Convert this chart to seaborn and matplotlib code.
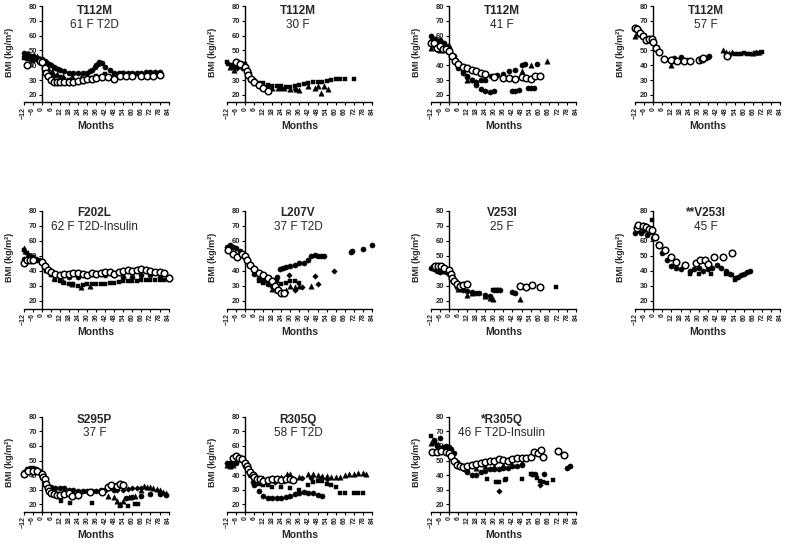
import matplotlib.pyplot as plt
import pandas as pd
import seaborn as sns

plt.switch_backend("Agg")

# ---- data (months from surgery, BMI) ----
# Panel 1: T112M 61 F T2D
P1_OPEN_M = [-10, -1, 0, 2, 3, 4, 6, 8, 10, 12, 15, 18, 21, 24, 27, 30, 33, 36, 40, 44, 48, 52, 56, 60, 66, 70, 74, 78]
P1_OPEN_B = [40, 43, 42, 38, 35, 33, 30, 29, 28.5, 28.5, 28.5, 28.5, 29, 29.5, 30, 30.5, 31, 31.5, 32, 32, 31, 32.5, 32.5, 32.5, 32.5, 33, 33, 33.5]
P1_CIRC_M = [-12, -11, -10, -9, -8, -7, -6, -5, -4, -3, -2, -1, 0, 2, 3, 5, 6, 8, 9, 11, 12, 15, 18, 21, 24, 27, 30,
             32, 33, 35, 36, 37, 38, 40, 42, 45, 48, 51, 54, 57, 60, 63, 66, 69, 72, 75, 78]
P1_CIRC_B = [48, 47, 47.5, 46, 46.5, 45, 46, 45, 44.5, 45, 44, 44, 44, 43, 42, 41, 40, 39, 38, 37.5, 37, 36, 35, 35, 35, 35, 35,
             36, 37, 39, 40, 41, 42, 41.5, 39, 37, 35, 35, 35, 35, 35, 35, 35, 35.5, 35.5, 35.5, 35.5]
P1_SQ_M = [-12, -10, -8, -6, -4, -2, 3, 6, 9, 12, 15, 18, 21, 24, 27, 30, 33, 36, 42, 48, 54, 60, 66, 72, 78]
P1_SQ_B = [45, 44, 46, 43, 45, 44, 37, 34, 33, 32, 31, 30, 29.5, 29, 29, 30, 31.5, 33, 34, 34, 34.5, 34, 34, 34.5, 34.5]
P1_TRI_M = [-11, -9, -7, -5, -3, 1, 4, 7, 10, 14, 20, 26]
P1_TRI_B = [46, 48, 44, 47, 46, 42, 38, 36, 34, 33, 33, 32]

# Panel 2: T112M 30 F
P2_OPEN_M = [-6, -3, 0, 1, 2, 4, 6, 9, 12, 15]
P2_OPEN_B = [42, 41, 39, 36.5, 33.5, 31, 29, 26.5, 24.5, 22.5]
P2_SQ_M = [-12, -11, -9, -8, -6, -4, -3, -1, 0, 3, 6, 9, 12, 15, 18, 21, 24, 27, 30, 33, 36, 39, 42, 45, 48, 51, 54, 57, 60, 63, 66, 72]
P2_SQ_B = [42, 41, 40, 39, 38, 40, 40, 41, 41, 34, 30, 28, 28, 27, 26, 26, 26, 25.5, 25.5, 26, 27, 27.5, 28, 28.5, 29, 29, 29.5, 30, 30.5, 31, 31, 30.5]
P2_TRI_M = [-10, -7, 14, 18, 22, 26, 30, 34, 36, 42, 46, 48, 50, 52, 55]
P2_TRI_B = [39, 37, 26, 25, 24.5, 24.5, 24, 24, 23.5, 26, 25, 26, 21.5, 26, 24]
P2_DIA_M = [-5, -2, 10, 16, 24, 33]
P2_DIA_B = [38, 38.5, 27, 26, 25, 24]

# Panel 3: T112M 41 F
P3_OPEN_M = [-12, -10, -8, -6, -4, -2, 0, 2, 4, 6, 9, 12, 15, 18, 21, 24, 30, 36, 40, 44, 48, 51, 54, 57, 60]
P3_OPEN_B = [55, 55, 52, 53, 51, 51, 49.5, 46, 43, 41, 39, 38, 37, 36, 35, 34, 32, 31.5, 31.5, 31, 32, 31.5, 31, 32.5, 33]
P3_CIRC_M = [-12, -10, -9, -7, -6, -4, -3, -1, 0, 3, 6, 9, 12, 15, 18, 21, 24, 27, 30, 42, 44, 46, 52, 54, 56]
P3_CIRC_B = [60, 58, 58, 56, 57, 55, 55, 53, 52, 46, 40, 36, 33, 30, 27, 24, 22.5, 22, 22.5, 22.5, 22.5, 23.5, 24.5, 24.5, 24.5]
P3_CIRC2_M = [-11, -8, -5, -2, 6, 9, 12, 15, 18, 21, 24, 28, 32, 36, 40, 44, 48, 50, 58]
P3_CIRC2_B = [57, 55, 54, 52, 38, 35, 32, 30, 29, 30, 30, 33, 33.5, 34, 36, 37, 40.5, 41, 41]
P3_TRI_M = [-12, -9, -6, -3, 12, 18, 24, 48, 54, 65]
P3_TRI_B = [52, 54, 50, 52, 30, 29, 31, 36, 40, 43]

# Panel 4: T112M 57 F
P4_OPEN_M = [-12, -11, -9, -7, -5, -3, -1, 0, 2, 4, 7, 12, 16, 20, 24, 30, 32, 33, 49]
P4_OPEN_B = [65, 64.5, 62, 60, 57, 58, 58, 55.5, 52, 49, 44.5, 43.5, 43, 43, 43, 43.5, 44, 45, 46.5]
P4_TRI_M = [-12, -11, -10, -9, -8, -7, -6, -4, -2, 12, 46, 48, 50, 52, 66, 68, 70]
P4_TRI_B = [60, 62, 63, 61, 63, 61, 60, 58, 57, 40, 50, 49, 48.5, 49, 48.5, 49, 49]
P4_CIRC_M = [14, 18, 22, 36, 37]
P4_CIRC_B = [45, 45.5, 43.5, 45.5, 46.5]
P4_SQ_M = [13, 16, 20, 35, 54, 56, 58, 60, 62, 64, 67, 70, 72]
P4_SQ_B = [42.5, 42, 43, 44.5, 47.5, 47.5, 47.5, 48, 47.5, 47.5, 48, 48.5, 49]

# Panel 5: F202L 62 F T2D-Insulin
P5_OPEN_M = [-12, -10, -8, -6, 0, 2, 4, 6, 9, 12, 15, 18, 21, 24, 27, 30, 33, 36, 39, 42, 45, 48, 51, 54, 57, 60, 63, 66, 69, 72, 75, 78, 81, 84]
P5_OPEN_B = [45, 47, 47, 47.5, 46, 43, 40.5, 39, 38, 37.5, 38, 38, 38.5, 38.5, 38, 37.5, 38.5, 38, 38.5, 39, 39.5, 38, 39.5, 40,
             40.5, 40, 40.5, 41, 40.5, 40, 39.5, 39, 38.5, 35]
P5_SQ_M = [-12, -10, -8, -6, -4, -2, 0, 3, 6, 9, 12, 15, 18, 21, 24, 27, 30, 33, 36, 39, 42, 45, 48, 51, 54, 57, 60, 63, 66, 69,
           72, 75, 78, 81, 84]
P5_SQ_B = [54, 52, 50, 49, 48, 47, 45, 40, 37, 34, 33, 32, 31.5, 31, 30, 30.5, 31, 31, 31, 31.5, 31.5, 32, 32, 32.5, 33, 33,
           33.5, 33.5, 34, 34, 34, 34, 34, 34, 34]
P5_TRI_M = [-12, -11, -9, -7, 3, 8, 14, 20, 26, 32]
P5_TRI_B = [55, 53, 51, 50, 42, 35, 33, 31, 29.5, 30]
P5_CIRC_M = [-12, -9, -6, -3, 0, 6, 12, 18, 24, 30, 36, 42, 48, 54, 60, 66, 72, 78, 84]
P5_CIRC_B = [48, 48, 48, 47, 46, 38, 36, 36, 36, 37, 38, 37, 37, 36, 36, 37, 37, 36, 36]

# Panel 6: L207V 37 F T2D
P6_OPEN_M = [-11, -8, -5, -2, 0, 1, 3, 6, 9, 12, 15, 18, 20, 22, 24, 26]
P6_OPEN_B = [54, 51, 49, 51, 50, 47.5, 44, 41, 38.5, 37, 35.5, 33, 30, 27.5, 25.5, 25]
P6_CIRC_M = [-12, -10, -8, -6, -3, 0, 3, 6, 9, 12, 15, 18, 21, 23, 25, 27, 30, 33, 36, 39, 42, 44, 46, 48, 50, 52, 70, 71, 78, 84]
P6_CIRC_B = [56, 57, 56, 55, 53, 50, 44, 38, 35, 33, 31, 30, 36, 41, 42, 42.5, 43, 44, 45, 45.5, 47, 50, 50.5, 50, 50, 50,
             52.5, 53, 54.5, 57.5]
P6_SQ_M = [9, 12, 15, 18, 21, 24, 27, 30, 33, 36]
P6_SQ_B = [33, 32, 31, 32, 33, 31, 32, 33, 33.5, 32]
P6_TRI_M = [18, 21, 24, 27, 30, 33, 36, 44]
P6_TRI_B = [28, 27, 26, 27, 30, 29, 30, 30]
P6_DIA_M = [29, 33, 38, 46, 48, 59]
P6_DIA_B = [37, 27, 29.5, 36.5, 31, 40]

# Panel 7: V253I 25 F
P7_OPEN_M = [-10, -9, -7, -5, -3, 0, 1, 2, 3, 5, 7, 9, 12, 47, 51, 55, 60]
P7_OPEN_B = [42.5, 43, 43.5, 43, 42, 40.5, 38, 35.5, 33.5, 31, 30, 30.5, 31, 30, 29.5, 30.5, 29.5]
P7_CIRC_M = [-12, -10, -8, -6, -4, -2, 0, 3, 5, 7, 9, 12, 15, 18, 20, 24, 27, 30, 32, 34, 42, 44]
P7_CIRC_B = [42, 41, 40, 39.5, 40, 39, 38, 33, 29, 28, 27, 26.5, 26, 25.5, 25, 24, 23.5, 27, 27.5, 27.5, 26, 25]
P7_TRI_M = [6, 12, 15, 24, 27, 29, 47]
P7_TRI_B = [28, 24, 25, 23, 22, 21.5, 21.5]
P7_SQ_M = [29, 31, 33, 71]
P7_SQ_B = [27, 27.5, 27.5, 29]

# Panel 8: **V253I 45 F
P8_OPEN_M = [-11, -10, -7, -5, -3, -1, 1, 4, 8, 12, 15, 21, 28, 31, 34, 36, 40, 46, 52]
P8_OPEN_B = [68.5, 70.5, 70, 69, 68, 67, 62.5, 57, 54, 49, 46, 44, 45, 47, 47.5, 44.5, 49, 49.5, 52]
P8_CIRC_M = [-12, -10, -8, -6, -4, -2, 0, 3, 6, 9, 12, 15, 18, 24, 27, 30, 33, 36, 39, 42, 45, 48, 51, 54, 56, 58, 60, 62, 64]
P8_CIRC_B = [65, 67, 65, 67, 64, 66, 62, 58, 52, 47, 43, 42, 41, 40, 41, 42, 40, 41, 42, 44, 42, 40, 38, 35, 36, 37, 38, 39.5, 40]
P8_SQ_M = [-1, 24, 30, 38, 48, 52, 54]
P8_SQ_B = [73.5, 38, 38, 38, 38, 37, 34]

# Panel 9: S295P 37 F
P9_OPEN_M = [-12, -9, -6, -3, 0, 1, 2, 3, 4, 5, 6, 8, 10, 12, 15, 18, 20, 24, 32, 40, 44, 46, 50, 52, 54]
P9_OPEN_B = [41, 43, 43, 43, 41, 39, 37, 34, 31, 29, 27.5, 27, 26.5, 26.5, 27, 27.5, 26, 26.5, 28.5, 28.5, 32, 33, 32.5, 34, 33]
P9_CIRC_M = [-12, -10, -8, -6, -4, -2, 0, 3, 6, 9, 12, 15, 18, 21, 24, 27, 30, 33, 36, 39, 42, 45, 48, 56, 60, 66, 72, 78, 82]
P9_CIRC_B = [42, 44, 45, 45, 44, 43, 41, 35, 32, 31, 31, 31, 30, 29.5, 29, 29, 29, 29, 29, 29.5, 30, 31, 30, 24, 25, 26, 27, 27, 26.5]
P9_TRI_M = [44, 48, 50, 52, 54, 58, 62, 66, 68, 70, 72, 74, 76, 78, 80, 82]
P9_TRI_B = [26, 25, 22, 20, 22.5, 25, 26, 30, 32.5, 32, 32, 31.5, 30.5, 29.5, 28.5, 27.5]
P9_DIA_M = [50, 54, 57, 60, 63, 66]
P9_DIA_B = [30, 30, 30.5, 31, 31, 31.5]
P9_SQ_M = [13, 19, 33, 52, 57, 62, 64]
P9_SQ_B = [22, 21, 21, 18.5, 19, 20.5, 20.5]

# Panel 10: R305Q 58 F T2D
P10_OPEN_M = [-8, -6, -4, -2, 0, 1, 2, 3, 5, 6, 8, 10, 12, 15, 18, 21, 24, 27, 30, 32]
P10_OPEN_B = [52, 53, 52, 51, 48, 46, 44, 42, 40, 39, 37.5, 37, 36, 36.5, 37, 37, 36.5, 37, 37, 36.5]
P10_CIRC_M = [-12, -10, -6, 0, 3, 5, 6, 9, 12, 15, 18, 21, 24, 27, 30, 33, 36, 39, 42, 45, 48, 51]
P10_CIRC_B = [48, 48, 48, 46, 40, 35, 33, 29, 26, 24.5, 24, 24, 24.5, 25, 26, 27, 28, 28.5, 28, 27.5, 26.5, 25.5]
P10_SQ_M = [6, 9, 12, 15, 18, 24, 30, 36, 42, 45, 48, 51, 54, 57, 60, 63, 66, 72, 75, 78]
P10_SQ_B = [37, 34, 33, 33, 32, 32, 31, 30, 33, 35, 36, 36, 34, 33, 32, 28, 28, 28, 27.5, 27.5]
P10_TRI_M = [-12, -10, -8, 12, 18, 24, 28, 30, 36, 42, 45, 48, 51, 54, 57, 60, 63, 66, 69, 72, 75, 78, 80]
P10_TRI_B = [47, 46, 47, 38, 38, 39, 40.5, 41, 38.5, 41, 41, 40, 39.5, 39.5, 39, 38.5, 39, 40, 41, 41, 41.5, 41.5, 41]
P10_DIA_M = [20, 26, 32, 38, 44, 50, 54]
P10_DIA_B = [35, 36, 37, 38, 38, 38, 37]

# Panel 11: *R305Q 46 F T2D-Insulin
P11_OPEN_M = [-11, -8, -5, -2, 0, 1, 3, 5, 7, 9, 12, 15, 18, 21, 24, 27, 30, 33, 36, 39, 42, 45, 48, 51, 54, 56, 59, 61, 62, 72, 76]
P11_OPEN_B = [56, 56, 56.5, 56, 55, 53, 50, 47, 46, 45.5, 46, 47, 47.5, 48, 49, 49.5, 50, 51, 50.5, 50, 51, 51.5, 51.5, 52,
              52.5, 56, 55, 57, 52.5, 56.5, 53.5]
P11_CIRC_M = [-10, -8, -6, -4, -2, 0, 1, 3, 5, 8, 10, 12, 15, 18, 21, 24, 27, 30, 33, 36, 39, 42, 45, 48, 55, 57, 63, 78, 80]
P11_CIRC_B = [64, 60, 65.5, 59, 60, 59, 58, 55, 49, 46, 44, 42, 40, 40, 42, 43, 44, 44, 44.5, 45, 45, 46, 46, 47, 41, 40.5,
              40.5, 45, 46.5]
P11_SQ_M = [-12, -9, 25, 31, 33, 37, 38, 48, 54, 56, 58, 60, 62, 65, 69]
P11_SQ_B = [67, 63, 37.5, 35.5, 35.5, 36.5, 37.5, 37.5, 41, 40, 38, 36, 35, 34.5, 36.5]
P11_TRI_M = [-12, -10, -7, 12, 18, 24, 30, 36, 42, 48]
P11_TRI_B = [62, 63, 61, 44, 45, 46, 46, 47, 47, 49]
P11_DIA_M = [33, 60]
P11_DIA_B = [29, 33]

TITLES = ["T112M", "T112M", "T112M", "T112M", "F202L", "L207V", "V253I", "**V253I", "S295P", "R305Q", "*R305Q"]
SUBTITLES = ["61 F T2D", "30 F", "41 F", "57 F", "62 F T2D-Insulin", "37 F T2D", "25 F", "45 F", "37 F",
             "58 F T2D", "46 F T2D-Insulin"]

SERIES = [
    [("circle", P1_CIRC_M, P1_CIRC_B), ("square", P1_SQ_M, P1_SQ_B), ("triangle", P1_TRI_M, P1_TRI_B), ("open", P1_OPEN_M, P1_OPEN_B)],
    [("square", P2_SQ_M, P2_SQ_B), ("triangle", P2_TRI_M, P2_TRI_B), ("diamond", P2_DIA_M, P2_DIA_B), ("open", P2_OPEN_M, P2_OPEN_B)],
    [("circle", P3_CIRC_M, P3_CIRC_B), ("circle", P3_CIRC2_M, P3_CIRC2_B), ("triangle", P3_TRI_M, P3_TRI_B), ("open", P3_OPEN_M, P3_OPEN_B)],
    [("triangle", P4_TRI_M, P4_TRI_B), ("circle", P4_CIRC_M, P4_CIRC_B), ("square", P4_SQ_M, P4_SQ_B), ("open", P4_OPEN_M, P4_OPEN_B)],
    [("square", P5_SQ_M, P5_SQ_B), ("triangle", P5_TRI_M, P5_TRI_B), ("circle", P5_CIRC_M, P5_CIRC_B), ("open", P5_OPEN_M, P5_OPEN_B)],
    [("circle", P6_CIRC_M, P6_CIRC_B), ("square", P6_SQ_M, P6_SQ_B), ("triangle", P6_TRI_M, P6_TRI_B), ("diamond", P6_DIA_M, P6_DIA_B), ("open", P6_OPEN_M, P6_OPEN_B)],
    [("circle", P7_CIRC_M, P7_CIRC_B), ("triangle", P7_TRI_M, P7_TRI_B), ("square", P7_SQ_M, P7_SQ_B), ("open", P7_OPEN_M, P7_OPEN_B)],
    [("circle", P8_CIRC_M, P8_CIRC_B), ("square", P8_SQ_M, P8_SQ_B), ("open", P8_OPEN_M, P8_OPEN_B)],
    [("circle", P9_CIRC_M, P9_CIRC_B), ("triangle", P9_TRI_M, P9_TRI_B), ("diamond", P9_DIA_M, P9_DIA_B), ("square", P9_SQ_M, P9_SQ_B), ("open", P9_OPEN_M, P9_OPEN_B)],
    [("circle", P10_CIRC_M, P10_CIRC_B), ("square", P10_SQ_M, P10_SQ_B), ("triangle", P10_TRI_M, P10_TRI_B), ("diamond", P10_DIA_M, P10_DIA_B), ("open", P10_OPEN_M, P10_OPEN_B)],
    [("circle", P11_CIRC_M, P11_CIRC_B), ("square", P11_SQ_M, P11_SQ_B), ("triangle", P11_TRI_M, P11_TRI_B), ("diamond", P11_DIA_M, P11_DIA_B), ("open", P11_OPEN_M, P11_OPEN_B)],
]

MARKER_STYLE = {
    "open": dict(marker="o", s=22, color="white", edgecolor="black", linewidth=1.1),
    "circle": dict(marker="o", s=14, color="black", edgecolor="black", linewidth=0.3),
    "square": dict(marker="s", s=12, color="black", edgecolor="black", linewidth=0.3),
    "triangle": dict(marker="^", s=15, color="black", edgecolor="black", linewidth=0.3),
    "diamond": dict(marker="D", s=8, color="black", edgecolor="black", linewidth=0.3),
}

sns.set_style("ticks")
plt.rcParams["font.family"] = ["Liberation Sans", "DejaVu Sans"]
plt.rcParams["font.weight"] = "bold"

W, H = 787, 545
fig = plt.figure(figsize=(W / 100, H / 100), dpi=100)

col_left = [23.6, 226.9, 430.9, 635.2]     # pixel x of month -12
row_top = [6, 210.7, 416.7]                # pixel y of BMI 80
row_bottom = [102.4, 308.5, 511.6]         # pixel y of BMI 15
axes_w = 145
title_y = [(76.3, 67.5), (78.2, 69.4), (77.8, 68.8)]

for i, (title, sub, series) in enumerate(zip(TITLES, SUBTITLES, SERIES)):
    row, col = divmod(i, 4)
    left = col_left[col] / W
    bottom = 1 - row_bottom[row] / H
    height = (row_bottom[row] - row_top[row]) / H
    ax = fig.add_axes([left, bottom, axes_w / W, height])

    for kind, months, bmi in series:
        df = pd.DataFrame({"Months": months, "BMI": bmi})
        sns.scatterplot(data=df, x="Months", y="BMI", ax=ax, legend=False, clip_on=False,
                        zorder=3, **MARKER_STYLE[kind])

    ax.set_xlim(-12, 84)
    ax.set_ylim(15, 80)
    ax.set_xticks(range(-12, 85, 6))
    ax.set_yticks(range(20, 81, 10))
    ax.spines["left"].set_position(("data", 0))
    ax.spines["top"].set_visible(False)
    ax.spines["right"].set_visible(False)
    for sp in ("left", "bottom"):
        ax.spines[sp].set_linewidth(1.0)
        ax.spines[sp].set_color("black")
    ax.tick_params(axis="both", direction="out", length=2.2, width=0.8, color="black", pad=1.2)
    ax.tick_params(axis="y", labelsize=5.5)
    ax.tick_params(axis="x", labelsize=5, labelrotation=90)

    ax.set_xlabel("Months", fontsize=7.5, fontweight="bold")
    ax.xaxis.set_label_coords(0.5, -0.19)
    ax.set_ylabel("BMI (kg/m²)", fontsize=6.5, fontweight="bold", va="center", ha="center")
    ax.yaxis.set_label_coords(-0.1, 0.52)

    ty1, ty2 = title_y[row]
    ax.text(35, ty1, title, ha="center", va="center", fontsize=8.5, fontweight="bold")
    ax.text(35, ty2, sub, ha="center", va="center", fontsize=8.5, fontweight="normal")

fig.savefig("out.png", dpi=100, facecolor="white")
